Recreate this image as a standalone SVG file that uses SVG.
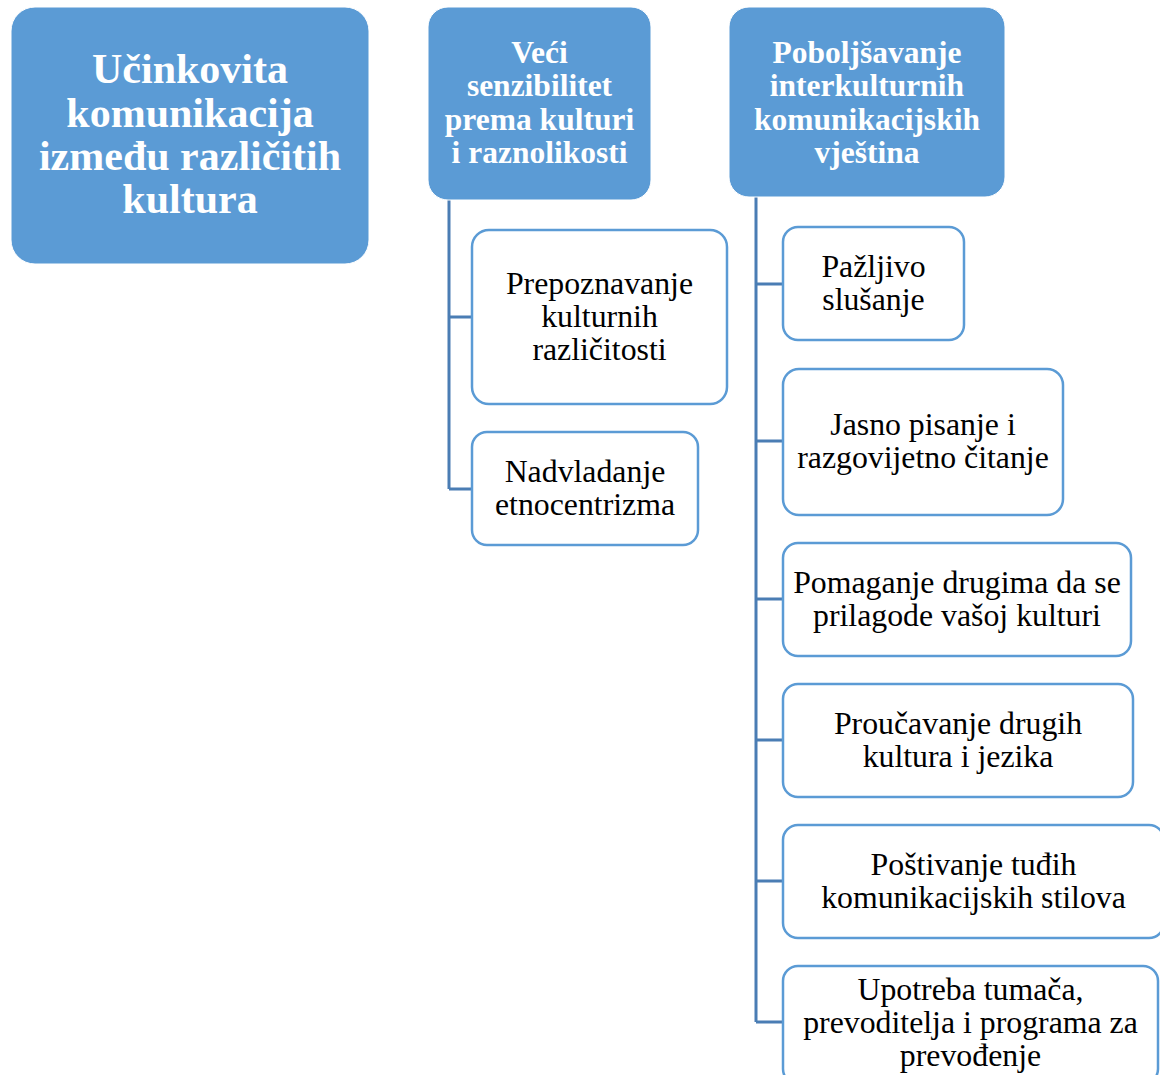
<svg xmlns="http://www.w3.org/2000/svg" width="1160" height="1075" viewBox="0 0 1160 1075">
<style>
.hdr{fill:#5b9bd5;stroke:#ffffff;stroke-width:1}
.child{fill:#ffffff;stroke:#5b9bd5;stroke-width:2.5}
.conn{fill:none;stroke:#4a7db4;stroke-width:3}
.ht{font-family:"Liberation Serif","Times New Roman",serif;font-weight:bold;fill:#ffffff;text-anchor:middle}
.ct{font-family:"Liberation Serif","Times New Roman",serif;fill:#000000;text-anchor:middle;font-size:31.8px}
</style>
<rect width="1160" height="1075" fill="#ffffff"/>
<g id="connectors">
<path class="conn" d="M449 200 V489 M449 317 H472 M449 489 H472"/>
<path class="conn" d="M756 197 V1022 M756 284 H783 M756 441 H783 M756 599 H783 M756 740 H783 M756 881 H783 M756 1022 H783"/>
</g>
<g id="main">
<rect class="hdr" x="11" y="7" width="358" height="257" rx="24"/>
<text class="ht" font-size="42" x="190"><tspan x="190" y="83">Učinkovita</tspan><tspan x="190" y="127">komunikacija</tspan><tspan x="190" y="170">između različitih</tspan><tspan x="190" y="213">kultura</tspan></text>
</g>
<g id="senzibilitet">
<rect class="hdr" x="428" y="7" width="223" height="193" rx="20"/>
<text class="ht" font-size="31.5"><tspan x="539.5" y="63">Veći</tspan><tspan x="539.5" y="96">senzibilitet</tspan><tspan x="539.5" y="130">prema kulturi</tspan><tspan x="539.5" y="163">i raznolikosti</tspan></text>
</g>
<g id="vjestine">
<rect class="hdr" x="729" y="7" width="276" height="190" rx="20"/>
<text class="ht" font-size="31.5"><tspan x="867" y="63">Poboljšavanje</tspan><tspan x="867" y="96">interkulturnih</tspan><tspan x="867" y="130">komunikacijskih</tspan><tspan x="867" y="163">vještina</tspan></text>
</g>
<g id="prepoznavanje">
<rect class="child" x="472" y="230" width="255" height="174" rx="17"/>
<text class="ct"><tspan x="599.5" y="294">Prepoznavanje</tspan><tspan x="599.5" y="327">kulturnih</tspan><tspan x="599.5" y="360">različitosti</tspan></text>
</g>
<g id="nadvladanje">
<rect class="child" x="472" y="432" width="226" height="113" rx="15"/>
<text class="ct"><tspan x="585" y="482">Nadvladanje</tspan><tspan x="585" y="515">etnocentrizma</tspan></text>
</g>
<g id="pazljivo">
<rect class="child" x="783" y="227" width="181" height="113" rx="15"/>
<text class="ct"><tspan x="873.5" y="277">Pažljivo</tspan><tspan x="873.5" y="310">slušanje</tspan></text>
</g>
<g id="jasno">
<rect class="child" x="783" y="369" width="280" height="146" rx="16"/>
<text class="ct"><tspan x="923" y="435">Jasno pisanje i</tspan><tspan x="923" y="468">razgovijetno čitanje</tspan></text>
</g>
<g id="pomaganje">
<rect class="child" x="783" y="543" width="348" height="113" rx="15"/>
<text class="ct"><tspan x="957" y="593">Pomaganje drugima da se</tspan><tspan x="957" y="626">prilagode vašoj kulturi</tspan></text>
</g>
<g id="proucavanje">
<rect class="child" x="783" y="684" width="350" height="113" rx="15"/>
<text class="ct"><tspan x="958" y="734">Proučavanje drugih</tspan><tspan x="958" y="767">kultura i jezika</tspan></text>
</g>
<g id="postivanje">
<rect class="child" x="783" y="825" width="381" height="113" rx="15"/>
<text class="ct"><tspan x="973.5" y="875">Poštivanje tuđih</tspan><tspan x="973.5" y="908">komunikacijskih stilova</tspan></text>
</g>
<g id="upotreba">
<rect class="child" x="783" y="966" width="375" height="118" rx="15"/>
<text class="ct"><tspan x="970.5" y="1000">Upotreba tumača,</tspan><tspan x="970.5" y="1033">prevoditelja i programa za</tspan><tspan x="970.5" y="1066">prevođenje</tspan></text>
</g>
</svg>
